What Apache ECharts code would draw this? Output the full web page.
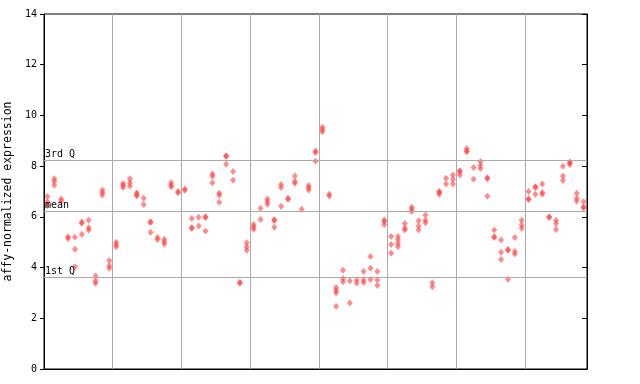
<!DOCTYPE html>
<html><head><meta charset="utf-8">
<script src="https://cdn.jsdelivr.net/npm/echarts@6/dist/echarts.min.js"></script>
<style>html,body{margin:0;padding:0;background:#fff}#c{width:640px;height:384px}</style>
</head><body><div id="c"></div>
<script>
// replicate expression values per sample (sample index = array position)
const expression = [
  [6.8, 6.6, 6.45], [7.5, 7.4, 7.25], [6.7, 6.62], [5.22, 5.15], [5.2, 4.72, 4.03],
  [5.8, 5.75, 5.31], [5.87, 5.57, 5.48], [3.67, 3.47, 3.38], [7.06, 6.96, 6.86], [4.28, 4.07, 3.97],
  [5.0, 4.9, 4.82], [7.32, 7.25, 7.16], [7.5, 7.35, 7.22], [6.95, 6.88, 6.82], [6.73, 6.49],
  [5.81, 5.78, 5.39], [5.19, 5.11], [5.12, 5.02, 4.93], [7.35, 7.25, 7.19], [7.0, 6.95],
  [7.1, 7.05], [5.94, 5.57, 5.55], [5.98, 5.64], [6.0, 5.97, 5.44], [7.69, 7.6, 7.35],
  [6.93, 6.85, 6.58], [8.41, 8.38, 8.07], [7.79, 7.44], [3.42, 3.38], [4.98, 4.82, 4.68],
  [5.7, 5.6, 5.51], [6.34, 5.9], [6.7, 6.6, 6.5], [5.9, 5.85, 5.59], [7.28, 7.16, 6.42],
  [6.73, 6.69], [7.61, 7.39, 7.33], [6.3], [7.24, 7.15, 7.06], [8.6, 8.54, 8.19],
  [9.53, 9.45, 9.36], [6.89, 6.82], [3.21, 3.1, 3.01, 2.47], [3.89, 3.57, 3.44], [3.47, 2.6],
  [3.51, 3.38], [3.85, 3.51, 3.41], [4.44, 3.97, 3.53], [3.85, 3.51, 3.29], [5.87, 5.84, 5.7],
  [5.23, 4.91, 4.56], [5.23, 5.1, 4.95, 4.82], [5.74, 5.55, 5.48], [6.38, 6.3, 6.21], [5.85, 5.64, 5.48],
  [6.07, 5.87, 5.77], [3.4, 3.24], [7.0, 6.97, 6.89], [7.52, 7.3], [7.65, 7.48, 7.3],
  [7.82, 7.78, 7.65], [8.7, 8.6, 8.57], [7.95, 7.48], [8.18, 8.04, 7.91], [7.54, 7.5, 6.81],
  [5.48, 5.22, 5.19], [5.09, 4.6, 4.32], [4.71, 4.68, 3.54], [5.19, 4.63, 4.54], [5.87, 5.68, 5.55],
  [7.0, 6.71, 6.68], [7.19, 7.16, 6.89], [7.3, 6.96, 6.89], [6.0, 5.97], [5.87, 5.74, 5.5],
  [8.0, 7.61, 7.43], [8.16, 8.12, 8.06], [6.93, 6.73, 6.62], [6.6, 6.39, 6.36]
];
const statLines = [
  { name: '3rd Q', value: 8.23 },
  { name: 'mean', value: 6.23 },
  { name: '1st Q', value: 3.63 }
];
const yTicks = [0, 2, 4, 6, 8, 10, 12, 14];

const points = [];
expression.forEach((vals, i) => vals.forEach(v => points.push([i + 0.5, v])));

const font = 'DejaVu Sans Mono';
const chart = echarts.init(document.getElementById('c'), null, { renderer: 'canvas' });
chart.setOption({
  animation: false,
  grid: { left: 44, right: 53, top: 14, bottom: 15, show: true, borderColor: '#000', borderWidth: 1,
    containLabel: false, outerBoundsMode: 'none' },
  xAxis: {
    type: 'value', min: 0, max: expression.length, interval: 10,
    axisLine: { show: true, lineStyle: { color: '#000' } },
    axisTick: { show: false }, axisLabel: { show: false },
    splitLine: { show: true, lineStyle: { color: '#aaa', width: 1 } }
  },
  yAxis: [{
    type: 'value', min: 0, max: 14, interval: 2,
    name: 'affy-normalized expression', nameLocation: 'middle', nameGap: 27,
    nameTextStyle: { fontFamily: font, fontSize: 11.5, color: '#000' },
    axisLine: { show: true, lineStyle: { color: '#000' } },
    axisTick: { show: true, length: 4, lineStyle: { color: '#000' } },
    axisLabel: { fontFamily: font, fontSize: 10, color: '#000', margin: 7,
      formatter: v => yTicks.includes(v) ? String(v) : '' },
    splitLine: { show: false }
  }, {
    type: 'value', min: 0, max: 14, interval: 2, position: 'right',
    axisLine: { show: true, lineStyle: { color: '#000' } },
    axisTick: { show: true, inside: true, length: 5, lineStyle: { color: '#000' } },
    axisLabel: { show: false }, splitLine: { show: false }
  }],
  series: [{
    type: 'scatter',
    data: points,
    symbol: 'diamond',
    symbolSize: [6, 7],
    itemStyle: { color: '#ff4040', opacity: 0.6 },
    markLine: {
      silent: true, symbol: 'none',
      lineStyle: { color: '#aaa', width: 1, type: 'solid' },
      label: { show: true, position: 'insideStartTop', distance: [1, 1],
        fontFamily: font, fontSize: 10, color: '#000', formatter: p => p.name },
      data: statLines.map(s => ({ name: s.name, yAxis: s.value }))
    }
  }]
});
</script></body></html>
